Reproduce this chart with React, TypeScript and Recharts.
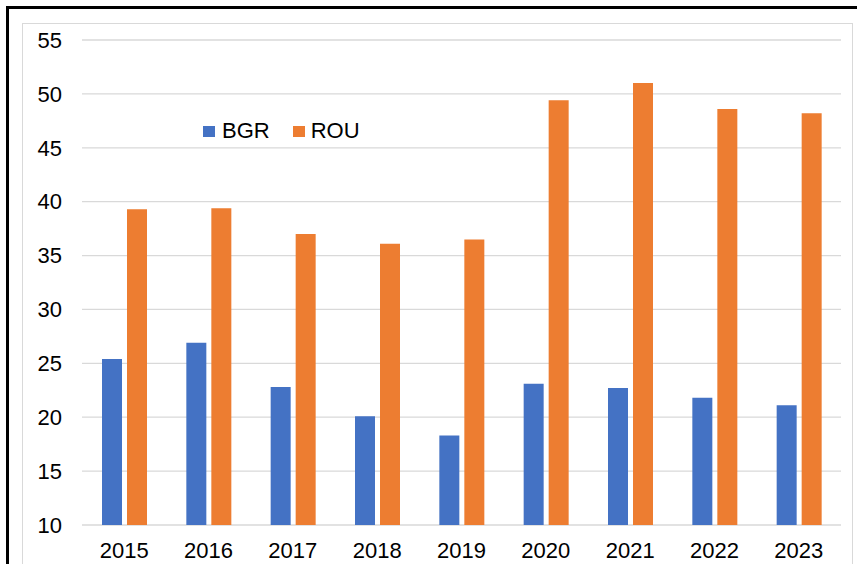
import { BarChart, Bar, XAxis, YAxis, CartesianGrid } from 'recharts'

// values
const years = ['2015', '2016', '2017', '2018', '2019', '2020', '2021', '2022', '2023']
const bgr = [25.4, 26.9, 22.8, 20.1, 18.3, 23.1, 22.7, 21.8, 21.1]
const rou = [39.3, 39.4, 37.0, 36.1, 36.5, 49.4, 51.0, 48.6, 48.2]
const yTicks = [10, 15, 20, 25, 30, 35, 40, 45, 50, 55]
const seriesNames = ['BGR', 'ROU']

const COLORS = {
  bgr: '#4472C4',
  rou: '#ED7D31',
  grid: '#D9D9D9',
  text: '#000000'
}

const data = years.map((year, i) => ({ year, BGR: bgr[i], ROU: rou[i] }))

const FONT = 'Liberation Sans, Arial, sans-serif'

// legend sits inside the plot area, drawn as a plain overlay
const ChartLegend = () => (
  <div
    style={{
      position: 'absolute', left: 203, top: 118, display: 'flex', alignItems: 'center',
      fontFamily: FONT, fontSize: 22, color: COLORS.text, lineHeight: '26px'
    }}
  >
    <span style={{ width: 12, height: 11, background: COLORS.bgr, display: 'inline-block', marginRight: 7 }} />
    <span style={{ marginRight: 23 }}>{seriesNames[0]}</span>
    <span style={{ width: 12, height: 11, background: COLORS.rou, display: 'inline-block', marginRight: 6 }} />
    <span>{seriesNames[1]}</span>
  </div>
)

export default function App() {
  return (
    <div style={{ position: 'fixed', left: 0, top: 0, width: 857, height: 564, overflow: 'hidden', background: '#fff' }}>
      {/* outer black frame */}
      <div style={{ position: 'absolute', left: 6, top: 6, width: 900, height: 700, border: '3px solid #000' }} />
      {/* inner chart border */}
      <div style={{ position: 'absolute', left: 22, top: 23, width: 829, height: 700, border: '1px solid #D9D9D9' }} />
      <div style={{ position: 'absolute', left: 0, top: 0 }}>
        <BarChart
          width={857}
          height={564}
          data={data}
          margin={{ top: 40, right: 16, left: 0, bottom: 0 }}
          barCategoryGap={20}
          barGap={5}
        >
          <CartesianGrid stroke={COLORS.grid} strokeWidth={1.3} vertical={false} />
          <XAxis
            dataKey="year"
            height={39}
            axisLine={false}
            tickLine={false}
            tickSize={0}
            tickMargin={17}
            tick={{ fill: COLORS.text, fontSize: 22, fontFamily: FONT }}
          />
          <YAxis
            width={82}
            domain={[10, 55]}
            ticks={yTicks}
            allowDataOverflow
            axisLine={false}
            tickLine={false}
            tickSize={0}
            tickMargin={20}
            tick={{ fill: COLORS.text, fontSize: 22, fontFamily: FONT }}
          />
          <Bar dataKey="BGR" fill={COLORS.bgr} isAnimationActive={false} />
          <Bar dataKey="ROU" fill={COLORS.rou} isAnimationActive={false} />
        </BarChart>
      </div>
      <ChartLegend />
    </div>
  )
}
